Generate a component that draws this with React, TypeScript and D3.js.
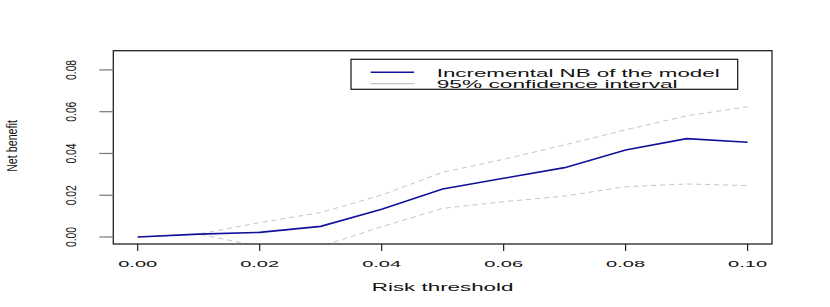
import React from "react";
import * as d3 from "d3";

const thresholds = [0, 0.01, 0.02, 0.03, 0.04, 0.05, 0.06, 0.07, 0.08, 0.09, 0.1];
const netBenefit = [0, 0.0014, 0.0022, 0.0051, 0.0133, 0.023, 0.0281, 0.0332, 0.0417, 0.0471, 0.0454];
const upperCI = [0, 0.0014, 0.0069, 0.0117, 0.0201, 0.031, 0.0372, 0.0441, 0.0513, 0.058, 0.0624];
const lowerCI = [0, 0.0014, -0.0045, -0.0045, 0.0049, 0.0137, 0.0169, 0.0196, 0.0241, 0.0254, 0.0246];
const xTicks = [0, 0.02, 0.04, 0.06, 0.08, 0.1];
const yTicks = [0, 0.02, 0.04, 0.06, 0.08];
const legendLabels = ["Incremental NB of the model", "95% confidence interval"];

const W = 830;
const H = 307;
const box = { left: 113.3, right: 772, top: 50.7, bottom: 244 };
const FONT = "'Liberation Sans', Arial, Helvetica, sans-serif";

export default function App() {
  const x = d3.scaleLinear().domain([-0.004, 0.104]).range([box.left, box.right]);
  const y = d3.scaleLinear().domain([-0.00335, 0.0892]).range([box.bottom, box.top]);

  const line = (vals: number[]) =>
    d3
      .line<number>()
      .x((_, i) => x(thresholds[i]))
      .y((v) => y(v))(vals) || "";

  return (
    <svg
      width={W}
      height={H}
      style={{ position: "absolute", left: 0, top: 0, background: "#fff" }}
      fontFamily={FONT}
    >
      <defs>
        <clipPath id="plotclip">
          <rect x={box.left} y={box.top} width={box.right - box.left} height={box.bottom - box.top} />
        </clipPath>
      </defs>
      <rect x={0} y={0} width={W} height={H} fill="#fff" />
      <g clipPath="url(#plotclip)">
        <path d={line(upperCI)} fill="none" stroke="#c4c4c4" strokeWidth={1} strokeDasharray="5,4" />
        <path d={line(lowerCI)} fill="none" stroke="#c4c4c4" strokeWidth={1} strokeDasharray="5,4" />
        <path d={line(netBenefit)} fill="none" stroke="#10109a" strokeWidth={1.6} />
      </g>
      <rect
        x={box.left}
        y={box.top}
        width={box.right - box.left}
        height={box.bottom - box.top}
        fill="none"
        stroke="#222"
        strokeWidth={1.3}
      />
      {xTicks.map((t) => (
        <g key={"x" + t}>
          <line x1={x(t)} x2={x(t)} y1={box.bottom} y2={box.bottom + 7} stroke="#222" strokeWidth={1.2} />
          <text
            x={x(t)}
            y={267.3}
            fontSize={9.4}
            textAnchor="middle"
            textLength={39}
            lengthAdjust="spacingAndGlyphs"
            fill="#111"
          >
            {t.toFixed(2)}
          </text>
        </g>
      ))}
      {yTicks.map((t) => (
        <g key={"y" + t}>
          <line x1={box.left - 14} x2={box.left} y1={y(t)} y2={y(t)} stroke="#777" strokeWidth={1.2} />
          <text
            transform={`translate(76,${y(t)}) rotate(-90) scale(1,1.38)`}
            fontSize={10.3}
            textAnchor="middle"
            fill="#111"
          >
            {t.toFixed(2)}
          </text>
        </g>
      ))}
      <text
        x={(box.left + box.right) / 2}
        y={291}
        fontSize={10.2}
        textAnchor="middle"
        textLength={141.7}
        lengthAdjust="spacingAndGlyphs"
        fill="#111"
      >
        Risk threshold
      </text>
      <text
        transform={`translate(17.3,146) rotate(-90) scale(1,1.32)`}
        fontSize={10.7}
        textAnchor="middle"
        fill="#111"
      >
        Net benefit
      </text>
      <g>
        <rect x={351} y={59.3} width={386.7} height={30} fill="#fff" stroke="#111" strokeWidth={1.2} />
        <line x1={370.7} x2={414} y1={72.3} y2={72.3} stroke="#10109a" strokeWidth={1.5} />
        <line x1={370.7} x2={414} y1={83.7} y2={83.7} stroke="#c4c4c4" strokeWidth={1.2} />
        <text
          x={436.7}
          y={76.7}
          fontSize={11.2}
          textLength={283}
          lengthAdjust="spacingAndGlyphs"
          fill="#111"
        >
          {legendLabels[0]}
        </text>
        <text
          x={436.7}
          y={87.8}
          fontSize={11.2}
          textLength={241}
          lengthAdjust="spacingAndGlyphs"
          fill="#111"
        >
          {legendLabels[1]}
        </text>
      </g>
    </svg>
  );
}
